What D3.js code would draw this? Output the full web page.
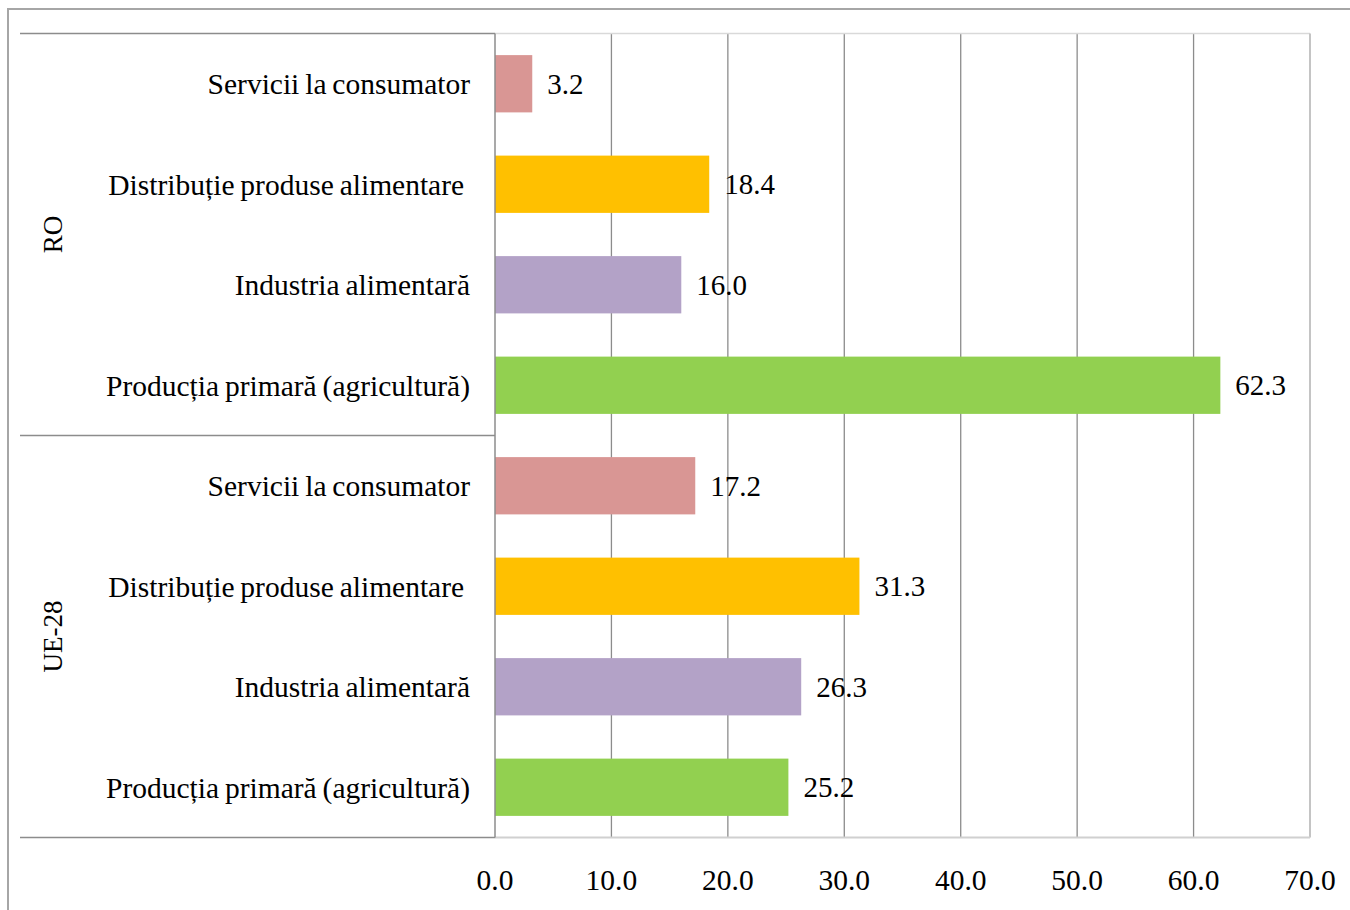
<!DOCTYPE html>
<html><head><meta charset="utf-8">
<script src="https://cdn.jsdelivr.net/npm/d3@7"></script>
<style>
html,body{margin:0;padding:0;background:#fff;}
svg{display:block;}
text{font-family:"Liberation Serif","Times New Roman",serif;fill:#000;}
</style></head>
<body>
<svg id="c" width="1350" height="910"></svg>
<script>
const groups = ["RO", "UE-28"];
const categories = ["Servicii la consumator", "Distribuție produse alimentare ", "Industria alimentară", "Producția primară (agricultură)"];
const roValues = [3.2, 18.4, 16.0, 62.3];
const ueValues = [17.2, 31.3, 26.3, 25.2];
const colors = ["#d99694", "#ffc000", "#b3a2c7", "#92d050"];
const tickValues = [0, 10, 20, 30, 40, 50, 60, 70];

const rows = [];
groups.forEach((g, gi) => {
  const vals = gi === 0 ? roValues : ueValues;
  categories.forEach((c, ci) => rows.push({group: g, cat: c, value: vals[ci], color: colors[ci], key: g + "|" + ci}));
});

const svg = d3.select("#c");
const pLeft = 495, pRight = 1310, pTop = 33.5, pBottom = 837.5;
const x = d3.scaleLinear().domain([0, 70]).range([pLeft, pRight]);
const y = d3.scaleBand().domain(rows.map(d => d.key)).range([pTop, pBottom]).paddingInner(0.43).paddingOuter(0.215);

// outer chart border
svg.append("path").attr("d", "M8,910 L8,9 L1350,9").attr("fill", "none").attr("stroke", "#a6a6a6").attr("stroke-width", 2);

// gridlines
svg.append("g").selectAll("line").data(tickValues.slice(1, -1)).join("line")
  .attr("x1", d => x(d)).attr("x2", d => x(d)).attr("y1", pTop).attr("y2", pBottom)
  .attr("stroke", "#8c8c8c").attr("stroke-width", 1.3);

// plot frame (light)
svg.append("line").attr("x1", pLeft).attr("x2", pRight).attr("y1", pTop).attr("y2", pTop).attr("stroke", "#d9d9d9").attr("stroke-width", 1.5);
svg.append("line").attr("x1", pRight).attr("x2", pRight).attr("y1", pTop).attr("y2", pBottom).attr("stroke", "#c4c4c4").attr("stroke-width", 2);
svg.append("line").attr("x1", pLeft).attr("x2", pRight).attr("y1", pBottom).attr("y2", pBottom).attr("stroke", "#d0d0d0").attr("stroke-width", 2);

// category divider lines
const groupEdges = [pTop, (pTop + pBottom) / 2, pBottom];
svg.append("g").selectAll("line").data(groupEdges).join("line")
  .attr("x1", 20).attr("x2", pLeft).attr("y1", d => d).attr("y2", d => d)
  .attr("stroke", "#8c8c8c").attr("stroke-width", 1.3);

// bars
svg.append("g").selectAll("rect").data(rows).join("rect")
  .attr("x", x(0)).attr("y", d => y(d.key))
  .attr("width", d => x(d.value) - x(0)).attr("height", y.bandwidth())
  .attr("fill", d => d.color);

// y axis line
svg.append("line").attr("x1", pLeft).attr("x2", pLeft).attr("y1", pTop).attr("y2", pBottom).attr("stroke", "#8c8c8c").attr("stroke-width", 1.5);

// value labels
svg.append("g").selectAll("text").data(rows).join("text")
  .attr("x", d => x(d.value) + 15).attr("y", d => y(d.key) + y.bandwidth() / 2)
  .attr("dy", "0.35em").attr("font-size", 29)
  .text(d => d.value.toFixed(1));

// category labels
svg.append("g").selectAll("text").data(rows).join("text")
  .attr("x", 470).attr("y", d => y(d.key) + y.bandwidth() / 2)
  .attr("dy", "0.35em").attr("font-size", 29.5).attr("text-anchor", "end")
  .style("white-space", "pre").style("word-spacing", "-1.5px")
  .text(d => d.cat);

// group labels
svg.append("g").selectAll("text").data(groups).join("text")
  .attr("transform", (d, i) => `translate(62,${(groupEdges[i] + groupEdges[i + 1]) / 2}) rotate(-90)`)
  .attr("text-anchor", "middle").attr("font-size", 27)
  .text(d => d);

// x axis tick labels
svg.append("g").selectAll("text").data(tickValues).join("text")
  .attr("x", d => x(d)).attr("y", 890).attr("text-anchor", "middle").attr("font-size", 29.5)
  .text(d => d.toFixed(1));
</script>
</body></html>
